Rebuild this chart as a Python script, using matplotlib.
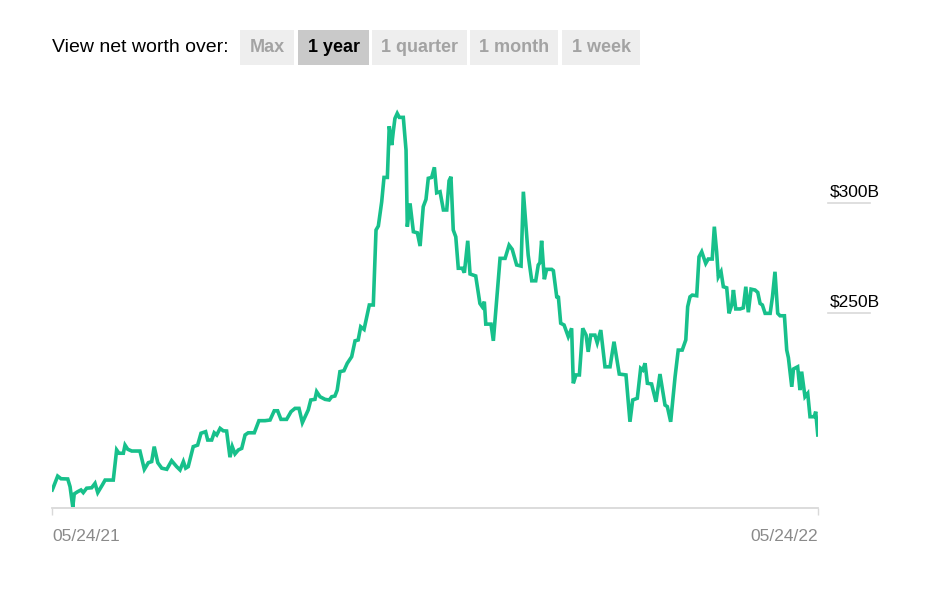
import matplotlib
matplotlib.use("Agg")
import matplotlib.pyplot as plt
from matplotlib.patches import Rectangle

# Net worth over one year (day offset from 05/24/21, $B)
days = [
    0.1, 0.5, 2.7, 4.3, 7.5, 8.6, 9.9, 10.6, 12.2, 13.8, 14.9, 16.5, 18.9, 20.5, 21.8,
    24.0, 25.3, 29.2, 30.8, 31.9, 34.0, 34.8, 36.1, 38.0, 41.9, 44.0, 45.9, 47.5, 48.7,
    50.4, 52.3, 54.7, 57.0, 59.4, 61.0, 62.6, 63.7, 64.9, 67.3, 69.4, 71.0, 73.2, 74.2,
    76.1, 77.3, 78.5, 80.1, 81.6, 83.2, 84.8, 85.9, 87.2, 88.8, 90.4, 92.0, 93.5, 96.4,
    98.6, 101.5, 103.9, 105.9, 107.5, 109.1, 111.8, 113.9, 115.8, 117.7, 119.3, 120.6,
    122.1, 123.3, 125.3, 126.1, 127.7, 130.1, 132.1, 133.3, 134.8, 135.9, 137.2, 139.1,
    140.7, 142.8, 144.4, 145.9, 147.1, 148.7, 150.0, 151.2, 153.1, 154.4, 155.5, 157.1,
    158.2, 159.8, 160.7, 161.9, 162.6, 163.4, 164.5, 165.5, 167.4, 168.7, 169.3, 170.6,
    172.2, 174.1, 175.4, 176.9, 178.2, 179.3, 180.9, 182.2, 183.3, 184.9, 186.5, 188.1,
    189.2, 190.1, 191.2, 192.4, 193.6, 195.5, 196.5, 198.1, 199.2, 201.9, 203.9, 205.0,
    206.0, 206.7, 209.2, 210.3, 213.5, 215.9, 217.8, 219.3, 221.4, 223.5, 224.6, 226.9,
    228.6, 230.5, 231.7, 232.5, 233.3, 234.6, 235.7, 238.1, 238.9, 240.5, 241.3, 242.4,
    244.0, 246.0, 247.6, 248.4, 249.7, 251.3, 252.9, 254.5, 255.5, 256.7, 258.7, 259.8,
    261.5, 263.5, 265.9, 267.8, 270.3, 273.5, 275.4, 276.7, 278.9, 280.5, 281.5, 282.6,
    283.7, 285.7, 287.8, 289.7, 292.1, 293.2, 294.8, 296.9, 298.4, 300.3, 302.0, 302.9,
    304.0, 305.1, 307.2, 308.3, 309.6, 311.5, 312.7, 314.6, 315.6, 316.7, 317.5, 318.8,
    319.9, 321.5, 322.6, 323.9, 324.7, 325.8, 327.9, 329.4, 330.6, 331.8, 333.1, 335.0,
    336.3, 337.4, 338.5, 339.8, 342.2, 343.3, 344.5, 345.8, 346.9, 349.0, 350.1, 350.9,
    352.5, 353.3, 355.3, 356.4, 357.2, 358.8, 360.1, 361.2, 363.2, 363.9, 364.9,
]
worth = [
    169.7, 170.6, 176.0, 174.8, 174.7, 171.2, 162.0, 167.9, 168.9, 169.7, 168.5, 170.5,
    170.7, 172.7, 168.5, 172.0, 174.2, 174.2, 187.9, 186.4, 186.4, 190.1, 188.2, 187.4,
    187.4, 179.1, 182.1, 182.6, 189.4, 182.1, 179.6, 179.1, 183.0, 180.3, 178.8, 182.6,
    179.6, 180.3, 189.4, 190.1, 195.5, 196.2, 192.4, 192.4, 195.7, 194.7, 197.7, 196.6,
    196.5, 184.6, 189.4, 186.1, 187.9, 188.6, 194.7, 195.7, 195.7, 201.2, 201.2, 201.5,
    205.7, 205.7, 201.8, 201.8, 205.3, 206.8, 206.8, 200.3, 203.0, 206.1, 210.6, 210.9,
    214.4, 212.1, 210.9, 210.6, 212.1, 212.4, 215.1, 223.5, 223.9, 227.3, 230.3, 237.5,
    237.9, 243.9, 242.7, 248.5, 253.8, 253.8, 287.9, 289.7, 300.7, 311.8, 311.8, 335.1,
    326.5, 332.5, 338.6, 340.9, 339.1, 339.1, 324.2, 289.4, 300.0, 287.1, 286.6, 280.6,
    298.5, 301.8, 311.4, 311.8, 316.4, 304.8, 305.3, 297.0, 297.0, 310.3, 312.1, 287.9,
    284.8, 270.5, 270.5, 268.5, 283.0, 267.9, 267.0, 254.5, 253.0, 255.3, 245.1, 245.1,
    237.5, 275.0, 275.0, 281.0, 279.1, 272.0, 271.5, 305.3, 276.5, 264.8, 264.8, 272.0,
    273.0, 283.0, 265.5, 270.0, 270.0, 269.4, 257.5, 257.3, 245.5, 244.7, 239.4, 243.2,
    218.2, 222.0, 222.0, 243.2, 240.1, 232.5, 240.1, 240.1, 236.6, 242.4, 225.7, 225.7,
    237.1, 222.4, 222.0, 200.7, 210.6, 211.4, 225.0, 224.2, 227.3, 218.2, 217.9, 209.8,
    222.4, 208.3, 207.6, 200.7, 221.2, 233.3, 233.3, 237.9, 253.0, 257.5, 258.3, 258.0,
    275.7, 278.0, 272.7, 274.7, 274.7, 289.4, 278.0, 266.6, 268.9, 262.1, 261.6, 250.0,
    253.8, 260.6, 252.0, 252.0, 252.5, 262.1, 250.5, 261.0, 260.6, 259.5, 254.5, 253.8,
    250.0, 250.0, 257.5, 268.9, 250.0, 248.9, 248.9, 233.3, 229.8, 216.6, 224.7, 225.7,
    215.1, 223.5, 212.1, 213.6, 203.0, 203.0, 205.3, 194.7,
]

grid_values = [250, 300]
grid_labels = ["$250B", "$300B"]
date_labels = ["05/24/21", "05/24/22"]
periods = ["Max", "1 year", "1 quarter", "1 month", "1 week"]
active_period = "1 year"

W, H = 931, 594
plt.rcParams["font.family"] = ["Liberation Sans", "DejaVu Sans"]

fig = plt.figure(figsize=(W / 100, H / 100), dpi=100)
fig.patch.set_facecolor("white")

def px(x, y):
    return x / W, 1 - y / H

# header: period selector
fig.text(*px(52, 48), "View net worth over:", fontsize=14, color="black", va="center")
boxes = [(240, 54), (298, 71), (372, 95), (470, 88), (562, 78)]
for (bx, bw), name in zip(boxes, periods):
    on = name == active_period
    x0, y0 = px(bx, 65)
    fig.add_artist(Rectangle((x0, y0), bw / W, 35 / H, transform=fig.transFigure,
                             facecolor="#c9c9c9" if on else "#eeeeee", edgecolor="none"))
    fig.text(*px(bx + bw / 2, 48), name, fontsize=13, fontweight="bold",
             color="black" if on else "#a3a3a3", ha="center", va="center")

ax = fig.add_axes([52 / W, (H - 508) / H, 766 / W, 408 / H])
ax.plot(days, worth, color="#17c08b", lw=2.6, solid_joinstyle="miter")
ax.set_xlim(0, 365)
ax.set_ylim(161.5, 347)

for s in ["top", "right", "left"]:
    ax.spines[s].set_visible(False)
ax.spines["bottom"].set_color("#d9d9d9")
ax.spines["bottom"].set_linewidth(1.3)
ax.set_yticks([])
ax.set_xticks([0, 365])
ax.set_xticklabels(date_labels, fontsize=12.5, color="#8a8a8a")
ax.tick_params(axis="x", length=5, width=1, color="#d9d9d9", pad=10)
labels = ax.get_xticklabels()
labels[0].set_ha("left")
labels[1].set_ha("right")

# right-side value markers
tr = ax.get_yaxis_transform()
for v, lab in zip(grid_values, grid_labels):
    ax.plot([1.013, 1.068], [v, v], transform=tr, color="#d9d9d9", lw=1.2, clip_on=False)
    ax.annotate(lab, xy=(1.016, v), xycoords=tr, xytext=(0, 5), textcoords="offset points",
                fontsize=12.5, color="black", va="baseline", ha="left")

fig.savefig("out.png", dpi=100)
